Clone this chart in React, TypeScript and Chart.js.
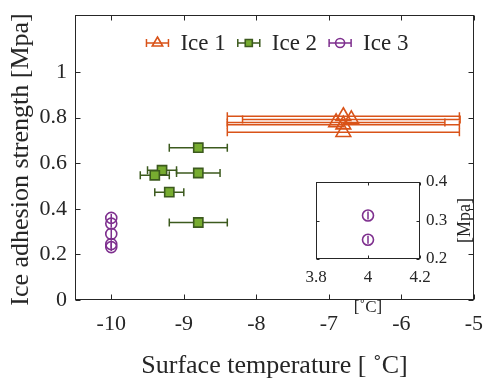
import React, { useEffect, useRef } from 'react';
import { Chart, registerables } from 'chart.js';

Chart.register(...registerables);

// ---- measurements ----
const ICE1_TEMP = [-6.8, -6.69, -6.9, -6.8, -6.8];
const ICE1_STRENGTH = [0.806, 0.792, 0.779, 0.769, 0.736];
const ICE1_TEMP_ERR = [1.6, 1.5, 1.5, 1.6, 1.6];

const ICE2_TEMP = [-8.8, -9.3, -9.4, -8.8, -9.2, -8.8];
const ICE2_STRENGTH = [0.668, 0.569, 0.547, 0.557, 0.473, 0.34];
const ICE2_TEMP_ERR = [0.4, 0.2, 0.2, 0.3, 0.2, 0.4];

const ICE3_TEMP = [-10, -10, -10, -10, -10];
const ICE3_STRENGTH = [0.36, 0.335, 0.29, 0.245, 0.232];
const ICE3_TEMP_ERR = [0, 0, 0, 0, 0];

const INSET_TEMP = [4, 4];
const INSET_STRENGTH = [0.313, 0.25];
const INSET_TEMP_ERR = [0, 0];

const SERIES_NAMES = ['Ice 1', 'Ice 2', 'Ice 3'];
const X_TICKS = [-10, -9, -8, -7, -6, -5];
const Y_TICKS = [0, 0.2, 0.4, 0.6, 0.8, 1];
const INSET_X_TICKS = [3.8, 4, 4.2];
const INSET_Y_TICKS = [0.2, 0.3, 0.4];

const X_TITLE = 'Surface temperature [ \u02DAC]';
const Y_TITLE = 'Ice adhesion strength [Mpa]';
const INSET_X_TITLE = '[\u02DAC]';
const INSET_Y_TITLE = '[Mpa]';

// ---- styling ----
const FONT = "'Liberation Serif', 'Times New Roman', serif";
const INK = '#262626';
const ORANGE = '#D95319';
const GREEN_FILL = '#77AC30';
const GREEN_EDGE = '#3C5A1E';
const PURPLE = '#7E2F8E';

const toPoints = (xs: number[], ys: number[]) => xs.map((x, i) => ({ x, y: ys[i] }));

function drawMarker(
  ctx: CanvasRenderingContext2D,
  style: string,
  x: number,
  y: number,
  r: number,
  stroke: string,
  fill: string,
  lw: number
) {
  ctx.save();
  ctx.lineWidth = lw;
  ctx.strokeStyle = stroke;
  ctx.fillStyle = fill;
  ctx.beginPath();
  if (style === 'triangle') {
    const h = (r * Math.sqrt(3)) / 2;
    ctx.moveTo(x, y - r);
    ctx.lineTo(x + h, y + r / 2);
    ctx.lineTo(x - h, y + r / 2);
    ctx.closePath();
  } else if (style === 'rect') {
    const s = r * Math.SQRT1_2;
    ctx.rect(x - s, y - s, 2 * s, 2 * s);
  } else {
    ctx.arc(x, y, r, 0, Math.PI * 2);
  }
  ctx.fill();
  ctx.stroke();
  ctx.restore();
}

// horizontal error bars with end caps, drawn from dataset.xErr
const errorBarPlugin = {
  id: 'errorBars',
  beforeDatasetDraw(chart: any, args: any) {
    const ds = chart.data.datasets[args.index];
    const err: number[] | undefined = ds.xErr;
    if (!err) return;
    const { ctx, scales } = chart;
    const sx = scales.x;
    const sy = scales.y;
    const cap = ds.capHalf ?? 4;
    ctx.save();
    ctx.strokeStyle = ds.errColor;
    ctx.lineWidth = ds.errWidth ?? 1.5;
    ds.data.forEach((p: { x: number; y: number }, j: number) => {
      const x0 = sx.getPixelForValue(p.x - err[j]);
      const x1 = sx.getPixelForValue(p.x + err[j]);
      const py = sy.getPixelForValue(p.y);
      ctx.beginPath();
      ctx.moveTo(x0, py);
      ctx.lineTo(x1, py);
      ctx.moveTo(x0, py - cap);
      ctx.lineTo(x0, py + cap);
      ctx.moveTo(x1, py - cap);
      ctx.lineTo(x1, py + cap);
      ctx.stroke();
    });
    ctx.restore();
  },
};

// axes box with inward ticks on all four sides
const framePlugin = {
  id: 'frame',
  beforeDraw(chart: any, _a: any, opts: any) {
    if (!opts.fill) return;
    const { ctx, chartArea: a } = chart;
    ctx.save();
    ctx.fillStyle = opts.fill;
    ctx.fillRect(a.left, a.top, a.right - a.left, a.bottom - a.top);
    ctx.restore();
  },
  beforeDatasetsDraw(chart: any, _a: any, opts: any) {
    const { ctx, chartArea: a, scales } = chart;
    const len = opts.tickLength ?? 5;
    const L = Math.round(a.left) + 0.5;
    const R = Math.round(a.right) - 0.5;
    const T = Math.round(a.top) + 0.5;
    const B = Math.round(a.bottom) - 0.5;
    ctx.save();
    ctx.strokeStyle = INK;
    ctx.lineWidth = 1;
    ctx.strokeRect(L, T, R - L, B - T);
    ctx.beginPath();
    scales.x.ticks.forEach((t: any) => {
      const px = Math.round(scales.x.getPixelForValue(t.value)) + 0.5;
      ctx.moveTo(px, B);
      ctx.lineTo(px, B - len);
      ctx.moveTo(px, T);
      ctx.lineTo(px, T + len);
    });
    scales.y.ticks.forEach((t: any) => {
      const py = Math.round(scales.y.getPixelForValue(t.value)) + 0.5;
      ctx.moveTo(L, py);
      ctx.lineTo(L + len, py);
      ctx.moveTo(R, py);
      ctx.lineTo(R - len, py);
    });
    ctx.stroke();
    ctx.restore();
  },
};

// axis titles placed relative to the plot area
const titlesPlugin = {
  id: 'axisTitles',
  afterDraw(chart: any, _a: any, opts: any) {
    const { ctx, chartArea: a } = chart;
    ctx.save();
    ctx.fillStyle = INK;
    ctx.textAlign = 'center';
    ctx.textBaseline = 'alphabetic';
    const cx = (a.left + a.right) / 2;
    const cy = (a.top + a.bottom) / 2;
    ctx.font = `${opts.size}px ${FONT}`;
    ctx.fillText(opts.x, cx + (opts.xShift ?? 0), a.bottom + opts.xOffset);
    ctx.font = `${opts.ySize ?? opts.size}px ${FONT}`;
    const tx = opts.ySide === 'right' ? a.right + opts.yOffset : a.left - opts.yOffset;
    ctx.translate(tx, cy + (opts.yShift ?? 0));
    ctx.rotate(-Math.PI / 2);
    ctx.fillText(opts.y, 0, 0);
    ctx.restore();
  },
};

// legend row across the top of the plot: error-bar sample, marker, label
const legendPlugin = {
  id: 'seriesLegend',
  afterDraw(chart: any, _a: any, opts: any) {
    const { ctx, chartArea: a } = chart;
    ctx.save();
    ctx.font = `${opts.size}px ${FONT}`;
    const sample = 22;
    const gapText = 12;
    const gapItem = 12;
    const items = chart.data.datasets.map((ds: any) => ({ ds, w: ctx.measureText(ds.label).width }));
    const total =
      items.reduce((s: number, it: any) => s + sample + gapText + it.w, 0) + gapItem * (items.length - 1);
    let x = (a.left + a.right) / 2 - total / 2 + (opts.shift ?? 0);
    const y = a.top + opts.offset;
    items.forEach(({ ds, w }: any) => {
      ctx.strokeStyle = ds.errColor;
      ctx.lineWidth = 1.5;
      ctx.beginPath();
      ctx.moveTo(x, y);
      ctx.lineTo(x + sample, y);
      ctx.moveTo(x, y - 4);
      ctx.lineTo(x, y + 4);
      ctx.moveTo(x + sample, y - 4);
      ctx.lineTo(x + sample, y + 4);
      ctx.stroke();
      drawMarker(ctx, ds.pointStyle, x + sample / 2, y, ds.legendRadius, ds.borderColor, ds.backgroundColor, ds.borderWidth);
      ctx.fillStyle = INK;
      ctx.textAlign = 'left';
      ctx.textBaseline = 'middle';
      ctx.fillText(ds.label, x + sample + gapText, y + 1);
      x += sample + gapText + w + gapItem;
    });
    ctx.restore();
  },
};

const label = (v: number | string) => String(v);

function mainConfig(): any {
  return {
    type: 'scatter',
    data: {
      datasets: [
        {
          label: SERIES_NAMES[0],
          data: toPoints(ICE1_TEMP, ICE1_STRENGTH),
          xErr: ICE1_TEMP_ERR,
          errColor: ORANGE,
          pointStyle: 'triangle',
          pointRadius: 8.5,
          legendRadius: 6,
          borderColor: ORANGE,
          backgroundColor: 'rgba(255,255,255,0)',
          borderWidth: 1.6,
        },
        {
          label: SERIES_NAMES[1],
          data: toPoints(ICE2_TEMP, ICE2_STRENGTH),
          xErr: ICE2_TEMP_ERR,
          errColor: GREEN_EDGE,
          pointStyle: 'rect',
          pointRadius: 6.5,
          legendRadius: 5,
          borderColor: GREEN_EDGE,
          backgroundColor: GREEN_FILL,
          borderWidth: 1.6,
        },
        {
          label: SERIES_NAMES[2],
          data: toPoints(ICE3_TEMP, ICE3_STRENGTH),
          xErr: ICE3_TEMP_ERR,
          errColor: PURPLE,
          pointStyle: 'circle',
          pointRadius: 5.5,
          legendRadius: 4.5,
          borderColor: PURPLE,
          backgroundColor: 'rgba(255,255,255,0)',
          borderWidth: 1.6,
        },
      ],
    },
    options: {
      animation: false,
      responsive: false,
      maintainAspectRatio: false,
      layout: { padding: { top: 15, right: 9, left: 0, bottom: 0 } },
      plugins: {
        legend: { display: false },
        tooltip: { enabled: false },
        frame: { tickLength: 5 },
        axisTitles: { x: X_TITLE, y: Y_TITLE, size: 26, xOffset: 73, yOffset: 47, ySide: 'left', yShift: 2 },
        seriesLegend: { size: 23, offset: 28, shift: 3 },
      },
      scales: {
        x: {
          type: 'linear',
          min: -10.5,
          max: -5,
          grid: { display: false, drawTicks: false },
          border: { display: false },
          ticks: { font: { family: FONT, size: 22 }, color: INK, padding: 11, maxRotation: 0, autoSkip: false, callback: label },
          afterBuildTicks: (s: any) => {
            s.ticks = X_TICKS.map((v) => ({ value: v }));
          },
          afterFit: (s: any) => {
            s.height = 83;
            s.paddingLeft = 0;
            s.paddingRight = 0;
          },
        },
        y: {
          type: 'linear',
          min: 0,
          max: 1.25,
          grid: { display: false, drawTicks: false },
          border: { display: false },
          ticks: { font: { family: FONT, size: 22 }, color: INK, padding: 8, autoSkip: false, callback: label },
          afterBuildTicks: (s: any) => {
            s.ticks = Y_TICKS.map((v) => ({ value: v }));
          },
          afterFit: (s: any) => {
            s.width = 75;
            s.paddingTop = 0;
            s.paddingBottom = 0;
          },
        },
      },
    },
    plugins: [framePlugin, errorBarPlugin, titlesPlugin, legendPlugin],
  };
}

function insetConfig(): any {
  return {
    type: 'scatter',
    data: {
      datasets: [
        {
          label: SERIES_NAMES[2],
          data: toPoints(INSET_TEMP, INSET_STRENGTH),
          xErr: INSET_TEMP_ERR,
          errColor: PURPLE,
          pointStyle: 'circle',
          pointRadius: 5.5,
          borderColor: PURPLE,
          backgroundColor: 'rgba(255,255,255,0)',
          borderWidth: 1.6,
        },
      ],
    },
    options: {
      animation: false,
      responsive: false,
      maintainAspectRatio: false,
      layout: { padding: { top: 17, left: 26, right: 0, bottom: 0 } },
      plugins: {
        legend: { display: false },
        tooltip: { enabled: false },
        frame: { tickLength: 3, fill: '#ffffff' },
        axisTitles: { x: INSET_X_TITLE, y: INSET_Y_TITLE, size: 17, ySize: 18, xOffset: 53, yOffset: 50, ySide: 'right' },
      },
      scales: {
        x: {
          type: 'linear',
          min: 3.8,
          max: 4.2,
          grid: { display: false, drawTicks: false },
          border: { display: false },
          ticks: { font: { family: FONT, size: 17 }, color: INK, padding: 8, maxRotation: 0, autoSkip: false, callback: label },
          afterBuildTicks: (s: any) => {
            s.ticks = INSET_X_TICKS.map((v) => ({ value: v }));
          },
          afterFit: (s: any) => {
            s.height = 61;
            s.paddingLeft = 0;
            s.paddingRight = 0;
          },
        },
        y: {
          type: 'linear',
          position: 'right',
          min: 0.2,
          max: 0.4,
          grid: { display: false, drawTicks: false },
          border: { display: false },
          ticks: { font: { family: FONT, size: 17 }, color: INK, padding: 6, autoSkip: false, callback: label },
          afterBuildTicks: (s: any) => {
            s.ticks = INSET_Y_TICKS.map((v) => ({ value: v }));
          },
          afterFit: (s: any) => {
            s.width = 64;
            s.paddingTop = 0;
            s.paddingBottom = 0;
          },
        },
      },
    },
    plugins: [framePlugin, errorBarPlugin, titlesPlugin],
  };
}

export default function App() {
  const mainRef = useRef<HTMLCanvasElement>(null);
  const insetRef = useRef<HTMLCanvasElement>(null);

  useEffect(() => {
    const main = new Chart(mainRef.current as HTMLCanvasElement, mainConfig());
    const inset = new Chart(insetRef.current as HTMLCanvasElement, insetConfig());
    return () => {
      main.destroy();
      inset.destroy();
    };
  }, []);

  return (
    <div style={{ position: 'fixed', left: 0, top: 0, width: 484, height: 383, background: '#ffffff' }}>
      <canvas
        ref={mainRef}
        width={484}
        height={383}
        style={{ position: 'absolute', left: 0, top: 0, width: 484, height: 383 }}
      />
      <canvas
        ref={insetRef}
        width={194}
        height={155}
        style={{ position: 'absolute', left: 290, top: 165, width: 194, height: 155 }}
      />
    </div>
  );
}
